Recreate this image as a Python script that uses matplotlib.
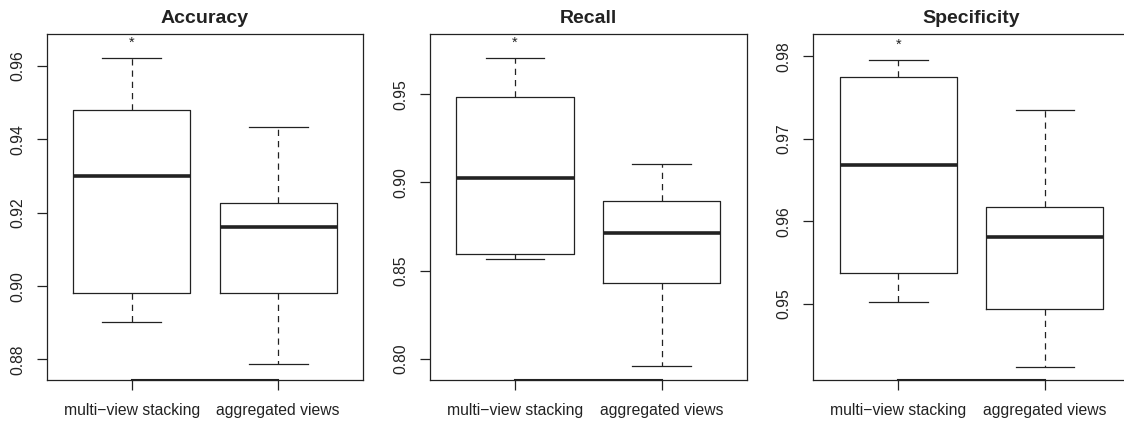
import matplotlib.pyplot as plt
import matplotlib.ticker as ticker
import matplotlib.transforms as mtransforms

plt.rcParams['font.family'] = ['Liberation Sans', 'DejaVu Sans']

titles = ['Accuracy', 'Recall', 'Specificity']
methods = ['multi\u2212view stacking', 'aggregated views']

# per panel: [multi-view stacking, aggregated views]
whislo = [[0.8903, 0.8787], [0.8564, 0.7959], [0.9502, 0.9424]]
q1 = [[0.8980, 0.8980], [0.8596, 0.8431], [0.9537, 0.9494]]
med = [[0.9301, 0.9161], [0.9027, 0.8713], [0.9668, 0.9581]]
q3 = [[0.9481, 0.9227], [0.9485, 0.8894], [0.9775, 0.9618]]
whishi = [[0.9622, 0.9434], [0.9706, 0.9104], [0.9796, 0.9735]]
star_y = [0.9671, 0.9808, 0.9818]

yticks = [[0.88, 0.90, 0.92, 0.94, 0.96],
          [0.80, 0.85, 0.90, 0.95],
          [0.95, 0.96, 0.97, 0.98]]
ylims = [(0.8744, 0.9687), (0.7879, 0.9842), (0.94078, 0.98272)]

W, H = 1124, 422
lefts = [46.7, 430.0, 813.3]
lc = '#222222'

fig = plt.figure(figsize=(W / 100, H / 100), dpi=100)
for i in range(3):
    ax = fig.add_axes([lefts[i] / W, 42 / H, 316.5 / W, 346 / H])
    stats = []
    for j in range(2):
        stats.append({'whislo': whislo[i][j], 'q1': q1[i][j], 'med': med[i][j],
                      'q3': q3[i][j], 'whishi': whishi[i][j], 'fliers': []})
    ax.bxp(stats, positions=[1, 2], widths=0.8, capwidths=0.4, showfliers=False,
           boxprops=dict(color=lc, linewidth=0.9),
           whiskerprops=dict(color=lc, linewidth=0.9, linestyle=(0, (5, 4))),
           capprops=dict(color=lc, linewidth=0.9),
           medianprops=dict(color=lc, linewidth=2.6, solid_capstyle='butt'))
    # "*" glyph sits high in its box, shift it down a little
    star_tr = mtransforms.offset_copy(ax.transData, fig=fig, y=-3, units='dots')
    ax.text(1, star_y[i], '*', ha='center', va='center', fontsize=10.5,
            color=lc, transform=star_tr)
    ax.set_xlim(0.42, 2.58)
    ax.set_ylim(*ylims[i])
    # R draws the x axis line between the outer ticks on top of the frame
    ax.plot([1, 2], [ylims[i][0], ylims[i][0]], color=lc, linewidth=1.5, clip_on=False)
    ax.set_xticks([1, 2])
    ax.set_xticklabels(methods)
    ax.set_yticks(yticks[i])
    ax.yaxis.set_major_formatter(ticker.FormatStrFormatter('%.2f'))
    ax.tick_params(axis='x', length=7.2, width=0.9, pad=9, labelsize=11.3,
                   color=lc, labelcolor=lc)
    ax.tick_params(axis='y', length=7.2, width=0.9, pad=8.5, labelsize=11.3,
                   color=lc, labelcolor=lc, labelrotation=90)
    for lab in ax.get_yticklabels():
        lab.set_va('center')
    for sp in ax.spines.values():
        sp.set_color(lc)
        sp.set_linewidth(0.9)
    ax.set_title(titles[i], fontsize=14, fontweight='bold', pad=8, color=lc)

fig.savefig('out.png', dpi=100)
